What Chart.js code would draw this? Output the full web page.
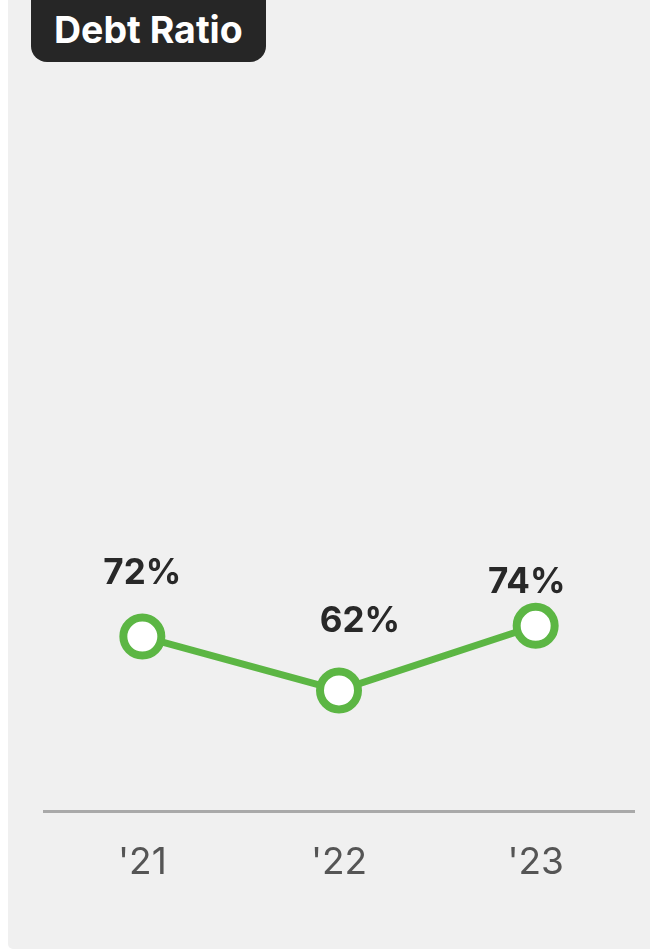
<!DOCTYPE html>
<html lang="en">
<head>
  <meta charset="UTF-8" />
  <title>Debt Ratio</title>
  <style>
    html, body {
      margin: 0;
      padding: 0;
      background: #ffffff;
      width: 650px;
      height: 952px;
      overflow: hidden;
      font-family: Inter, "Noto Sans", sans-serif;
    }
    .panel {
      position: absolute;
      left: 8px;
      top: -10px;
      width: 660px;
      height: 959px;
      background: #f0f0f0;
      border-radius: 5px;
    }
    .badge {
      position: absolute;
      left: 31px;
      top: -20px;
      width: 235px;
      height: 82px;
      background: #262626;
      border-radius: 16px;
      color: #ffffff;
      font-weight: 700;
      font-size: 37.5px;
      line-height: 1;
      box-sizing: border-box;
      padding: 31px 0 0 23px;
    }
    .wrap {
      position: absolute;
      left: 0;
      top: 0;
      width: 650px;
      height: 952px;
    }
  </style>
</head>
<body>
  <div class="panel"></div>
  <div class="badge">Debt Ratio</div>
  <div class="wrap">
    <canvas id="debtChart" width="650" height="952"></canvas>
  </div>

  <script src="https://cdn.jsdelivr.net/npm/chart.js"></script>
  <script>
    const years = ["'21", "'22", "'23"];
    const debtRatio = [72, 62, 74];

    const green = "#5cb644";
    // where each value label sits relative to its point (px)
    const labelShiftX = [0, 21, -9];
    const labelShiftY = [-53, -58, -33];

    const pointLabels = {
      id: "pointLabels",
      afterDatasetsDraw(chart) {
        const ctx = chart.ctx;
        const meta = chart.getDatasetMeta(0);
        ctx.save();
        ctx.font = "700 35px Inter, 'Noto Sans', sans-serif";
        ctx.fillStyle = "#282828";
        ctx.textAlign = "center";
        ctx.textBaseline = "alphabetic";
        meta.data.forEach((pt, i) => {
          ctx.fillText(debtRatio[i] + "%", pt.x + labelShiftX[i], pt.y + labelShiftY[i]);
        });
        ctx.restore();
      }
    };

    new Chart(document.getElementById("debtChart").getContext("2d"), {
      type: "line",
      data: {
        labels: years,
        datasets: [{
          data: debtRatio,
          borderColor: green,
          borderWidth: 7,
          pointBackgroundColor: "#ffffff",
          pointBorderColor: green,
          pointBorderWidth: 8,
          pointRadius: 19,
          tension: 0,
          fill: false
        }]
      },
      options: {
        responsive: false,
        animation: false,
        layout: {
          autoPadding: false,
          padding: { left: 44, right: 16, top: 273, bottom: 38 }
        },
        plugins: {
          legend: { display: false },
          tooltip: { enabled: false }
        },
        scales: {
          x: {
            offset: true,
            grid: { display: false, drawTicks: false },
            border: { display: true, color: "#a9a9a9", width: 3 },
            ticks: {
              padding: 29,
              color: "#555555",
              font: { family: "Inter, 'Noto Sans', sans-serif", size: 37, weight: "400" }
            }
          },
          y: {
            display: false,
            min: 39.5,
            max: 139.5
          }
        }
      },
      plugins: [pointLabels]
    });
  </script>
</body>
</html>
